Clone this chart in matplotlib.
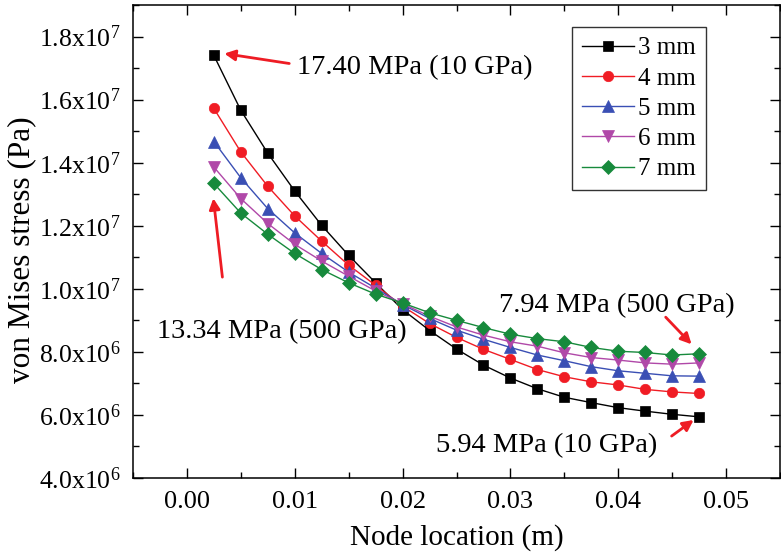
import matplotlib
matplotlib.use("Agg")
import matplotlib.pyplot as plt
from matplotlib.ticker import MultipleLocator, FixedLocator

plt.rcParams['font.family'] = ['Liberation Serif', 'DejaVu Serif']
plt.rcParams['mathtext.fontset'] = 'custom'
plt.rcParams['mathtext.rm'] = 'Liberation Serif'
plt.rcParams['mathtext.default'] = 'regular'

# ---- data ----
node_location = [0.0025, 0.0050, 0.0075, 0.0100, 0.0125, 0.0150, 0.0175, 0.0200,
                 0.0225, 0.0250, 0.0275, 0.0300, 0.0325, 0.0350, 0.0375, 0.0400,
                 0.0425, 0.0450, 0.0475]
stress_3mm = [17.40, 15.66, 14.30, 13.10, 12.01, 11.06, 10.19, 9.34, 8.68, 8.09,
              7.58, 7.17, 6.83, 6.56, 6.39, 6.23, 6.12, 6.02, 5.94]
stress_4mm = [15.72, 14.34, 13.25, 12.31, 11.51, 10.75, 10.11, 9.45, 8.90, 8.46,
              8.08, 7.76, 7.44, 7.21, 7.05, 6.95, 6.81, 6.73, 6.68]
stress_5mm = [14.67, 13.52, 12.54, 11.77, 11.12, 10.53, 10.02, 9.50, 9.06, 8.69,
              8.40, 8.14, 7.90, 7.72, 7.53, 7.40, 7.32, 7.24, 7.23]
stress_6mm = [13.86, 12.86, 12.07, 11.41, 10.88, 10.40, 9.93, 9.53, 9.13, 8.79,
              8.53, 8.32, 8.18, 7.97, 7.82, 7.74, 7.65, 7.61, 7.65]
stress_7mm = [13.34, 12.40, 11.73, 11.12, 10.61, 10.19, 9.83, 9.55, 9.24, 9.00,
              8.77, 8.56, 8.42, 8.32, 8.14, 8.02, 7.98, 7.90, 7.94]
series_labels = ['3 mm', '4 mm', '5 mm', '6 mm', '7 mm']

x_ticks = [0.00, 0.01, 0.02, 0.03, 0.04, 0.05]
x_tick_labels = ['0.00', '0.01', '0.02', '0.03', '0.04', '0.05']
y_ticks = [4.0e6, 6.0e6, 8.0e6, 1.0e7, 1.2e7, 1.4e7, 1.6e7, 1.8e7]
y_tick_labels = ['4.0x10$^{6}$', '6.0x10$^{6}$', '8.0x10$^{6}$', '1.0x10$^{7}$',
                 '1.2x10$^{7}$', '1.4x10$^{7}$', '1.6x10$^{7}$', '1.8x10$^{7}$']

# ---- figure ----
fig = plt.figure(figsize=(7.81, 5.54), dpi=100)
ax = fig.add_axes([133/781, 1 - 478/554, (780 - 133)/781, (478 - 5)/554])

colors = ['#000000', '#f01c24', '#3a4fb4', '#b048a8', '#178a3c']
markers = ['s', 'o', '^', 'v', 'D']
msizes = [7, 7.5, 8, 8, 7.3]
all_series = [stress_3mm, stress_4mm, stress_5mm, stress_6mm, stress_7mm]
for vals, lab, c, m, ms in zip(all_series, series_labels, colors, markers, msizes):
    ax.plot(node_location, [v * 1e6 for v in vals], color=c, marker=m,
            markersize=ms, linewidth=1.0, label=lab, markeredgewidth=0.5)

ax.set_xlim(-0.005, 0.055)
ax.set_ylim(4.0e6, 1.9e7)
ax.xaxis.set_major_locator(FixedLocator(x_ticks))
ax.set_xticklabels(x_tick_labels)
ax.xaxis.set_minor_locator(MultipleLocator(0.005))
ax.yaxis.set_major_locator(FixedLocator(y_ticks))
ax.set_yticklabels(y_tick_labels)
ax.yaxis.set_minor_locator(MultipleLocator(1e6))
ax.tick_params(which='both', direction='in', top=True, right=True, width=1.0)
ax.tick_params(axis='x', which='major', labelsize=19, pad=9)
ax.tick_params(axis='y', which='major', labelsize=18.5, pad=9)
ax.tick_params(which='major', length=7)
ax.tick_params(which='minor', length=4)
for s in ax.spines.values():
    s.set_linewidth(1.1)

ax.set_xlabel('Node location (m)', fontsize=21, labelpad=8)
ax.set_ylabel('von Mises stress (Pa)', fontsize=22.5)
ax.yaxis.set_label_coords(-0.150, 0.482)

leg = ax.legend(loc='upper left', bbox_to_anchor=(0.6785, 0.9535),
                borderaxespad=0, fontsize=18, fancybox=False, frameon=True,
                edgecolor='black', handlelength=2.1, labelspacing=0.31,
                handletextpad=0.15, borderpad=0.4)
leg.get_frame().set_linewidth(1.0)

# ---- annotations ----
arrow_kw = dict(arrowstyle='-|>', color='#ee1c24', lw=2.0, mutation_scale=16,
                shrinkA=0, shrinkB=0)
ax.annotate('', xy=(0.00347, 17.46e6), xytext=(0.00949, 17.145e6), arrowprops=arrow_kw)
ax.annotate('', xy=(0.00245, 12.87e6), xytext=(0.00329, 10.37e6), arrowprops=arrow_kw)
ax.annotate('', xy=(0.0468, 8.24e6), xytext=(0.0444, 9.10e6), arrowprops=arrow_kw)
ax.annotate('', xy=(0.04699, 5.84e6), xytext=(0.04495, 5.33e6), arrowprops=arrow_kw)

ax.text(0.01023, 17.0e6, '17.40 MPa (10 GPa)', fontsize=20.5, ha='left', va='center')
ax.text(-0.00282, 8.65e6, '13.34 MPa (500 GPa)', fontsize=20.5, ha='left', va='center')
ax.text(0.02894, 9.47e6, '7.94 MPa (500 GPa)', fontsize=20.5, ha='left', va='center')
ax.text(0.0231, 5.04e6, '5.94 MPa (10 GPa)', fontsize=20.5, ha='left', va='center')

fig.savefig('out.png', dpi=100)
